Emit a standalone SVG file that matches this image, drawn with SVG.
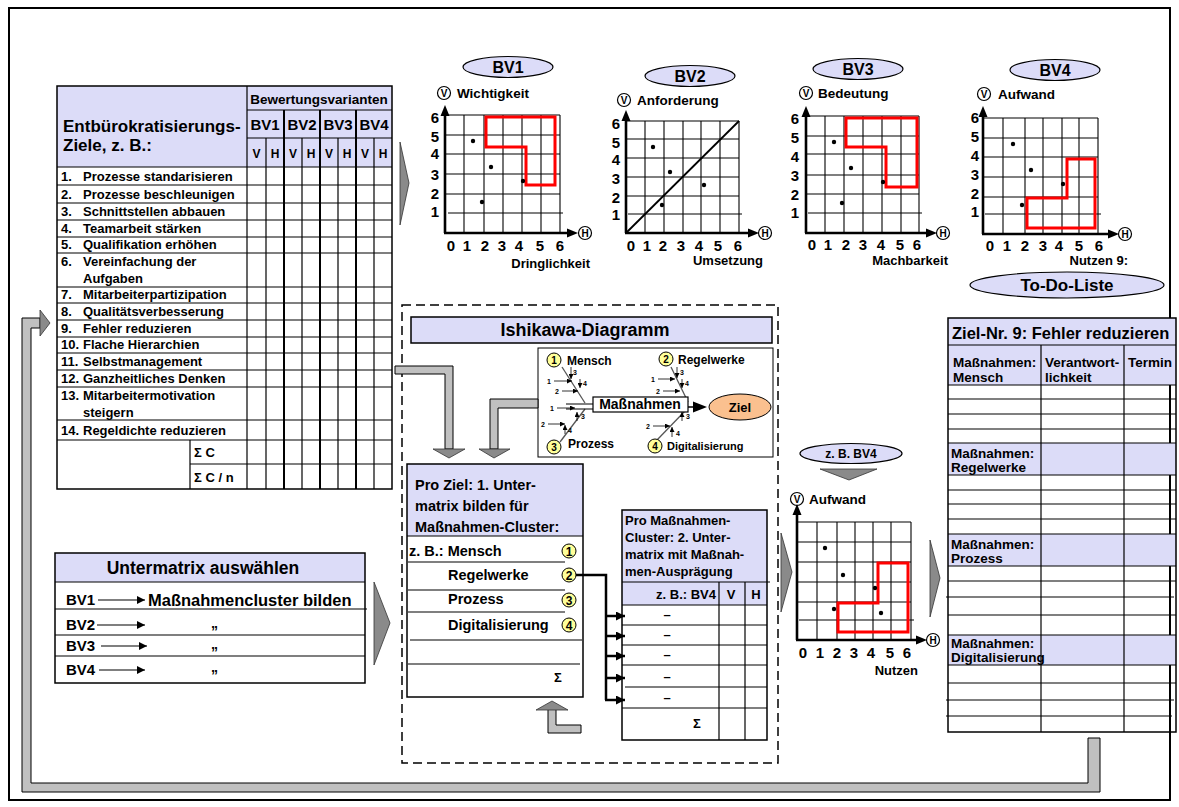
<svg xmlns="http://www.w3.org/2000/svg" width="1179" height="807" viewBox="0 0 1179 807">
<defs>
<style>
text{font-family:"Liberation Sans",Arial,sans-serif;font-weight:bold;fill:#000}
.lav{fill:#DCDCF8}
.bx{fill:none;stroke:#000;stroke-width:1.5}
.ln{stroke:#000;stroke-width:1.2;fill:none}
.lt{stroke:#000;stroke-width:2;fill:none}
.gr{stroke:#000;stroke-width:1.1;fill:none}
.ax{stroke:#000;stroke-width:2.6;fill:none}
.red{fill:none;stroke:#FF0000;stroke-width:3}
.pipe{fill:#C0C0C0;stroke:#000;stroke-width:1}
.chev{fill:#8A8A8A;stroke:#333;stroke-width:0.8}
.ell{fill:#DCDCF8;stroke:#000;stroke-width:1.2}
.num{fill:#FFFF99;stroke:#000;stroke-width:1}
.bone{stroke:#555;stroke-width:1.3;fill:none}
.sa{stroke:#000;stroke-width:0.8;fill:none;marker-end:url(#sm)}
.f7{font-size:7px}
.f10{font-size:10px}
.f12{font-size:12px}
.f13{font-size:13px}
.f135{font-size:13.5px}
.f14{font-size:14px}
.f145{font-size:14.5px}
.f15{font-size:15px}
.f16{font-size:16px}
.f17{font-size:17px}
.mid{text-anchor:middle}
.end{text-anchor:end}
</style>
<marker id="sm" viewBox="0 0 6 6" refX="6" refY="3" markerWidth="5" markerHeight="5" orient="auto" markerUnits="userSpaceOnUse"><path d="M0,0 L6,3 L0,6 Z" fill="#000"/></marker>
<marker id="ar" viewBox="0 0 8 8" refX="8" refY="4" markerWidth="8" markerHeight="8" orient="auto" markerUnits="userSpaceOnUse"><path d="M0,0 L8,4 L0,8 Z" fill="#000"/></marker>
<marker id="ab" viewBox="0 0 10 10" refX="10" refY="5" markerWidth="9" markerHeight="9" orient="auto" markerUnits="userSpaceOnUse"><path d="M0,0 L10,5 L0,10 Z" fill="#000"/></marker>
<g id="cV"><circle r="6.5" fill="#fff" stroke="#000" stroke-width="1.2"/><text y="3.6" class="f10 mid">V</text></g>
<g id="cH"><circle r="6.5" fill="#fff" stroke="#000" stroke-width="1.2"/><text y="3.6" class="f10 mid">H</text></g>
</defs>

<rect x="9" y="8" width="1161" height="792" fill="#fff" stroke="#000" stroke-width="2"/>

<!-- Left table -->
<g id="ziele-tabelle">
<rect x="57" y="86" width="335" height="81" class="lav"/>
<rect x="57" y="86" width="335" height="403" class="bx"/>
<line x1="247" y1="86" x2="247" y2="489" class="ln"/>
<line x1="247" y1="110" x2="392" y2="110" class="ln"/>
<line x1="247" y1="138" x2="392" y2="138" class="ln"/>
<line x1="57" y1="167" x2="392" y2="167" class="ln"/>
<g class="lt"><line x1="284" y1="110" x2="284" y2="489"/><line x1="320" y1="110" x2="320" y2="489"/><line x1="356" y1="110" x2="356" y2="489"/></g>
<g class="ln"><line x1="266" y1="138" x2="266" y2="489"/><line x1="302" y1="138" x2="302" y2="489"/><line x1="338" y1="138" x2="338" y2="489"/><line x1="374" y1="138" x2="374" y2="489"/></g>
<g class="ln">
<line x1="57" y1="185" x2="392" y2="185"/><line x1="57" y1="203" x2="392" y2="203"/><line x1="57" y1="220" x2="392" y2="220"/><line x1="57" y1="237" x2="392" y2="237"/><line x1="57" y1="253" x2="392" y2="253"/><line x1="57" y1="287" x2="392" y2="287"/><line x1="57" y1="303" x2="392" y2="303"/><line x1="57" y1="320" x2="392" y2="320"/><line x1="57" y1="337" x2="392" y2="337"/><line x1="57" y1="353" x2="392" y2="353"/><line x1="57" y1="370" x2="392" y2="370"/><line x1="57" y1="387" x2="392" y2="387"/><line x1="57" y1="420" x2="392" y2="420"/><line x1="57" y1="440" x2="392" y2="440"/><line x1="190" y1="464" x2="392" y2="464"/><line x1="190" y1="440" x2="190" y2="489"/>
</g>
<text x="63" y="132" class="f17">Entbürokratisierungs-</text>
<text x="63" y="151" class="f17">Ziele, z. B.:</text>
<text x="319" y="104" class="f135 mid">Bewertungsvarianten</text>
<text x="265" y="130" class="f15 mid">BV1</text><text x="302" y="130" class="f15 mid">BV2</text><text x="338" y="130" class="f15 mid">BV3</text><text x="374" y="130" class="f15 mid">BV4</text>
<g class="f12 mid">
<text x="256.5" y="158">V</text><text x="275" y="158">H</text><text x="293" y="158">V</text><text x="311" y="158">H</text><text x="329" y="158">V</text><text x="347" y="158">H</text><text x="365" y="158">V</text><text x="383" y="158">H</text>
</g>
<g class="f13">
<text x="61" y="181">1.</text><text x="83" y="181">Prozesse standarisieren</text>
<text x="61" y="199">2.</text><text x="83" y="199">Prozesse beschleunigen</text>
<text x="61" y="216">3.</text><text x="83" y="216">Schnittstellen abbauen</text>
<text x="61" y="233">4.</text><text x="83" y="233">Teamarbeit stärken</text>
<text x="61" y="249">5.</text><text x="83" y="249">Qualifikation erhöhen</text>
<text x="61" y="266">6.</text><text x="83" y="266">Vereinfachung der</text><text x="83" y="283">Aufgaben</text>
<text x="61" y="299">7.</text><text x="83" y="299">Mitarbeiterpartizipation</text>
<text x="61" y="316">8.</text><text x="83" y="316">Qualitätsverbesserung</text>
<text x="61" y="333">9.</text><text x="83" y="333">Fehler reduzieren</text>
<text x="61" y="349">10.</text><text x="83" y="349">Flache Hierarchien</text>
<text x="61" y="366">11.</text><text x="83" y="366">Selbstmanagement</text>
<text x="61" y="383">12.</text><text x="83" y="383">Ganzheitliches Denken</text>
<text x="61" y="400">13.</text><text x="83" y="400">Mitarbeitermotivation</text><text x="83" y="417">steigern</text>
<text x="61" y="435">14.</text><text x="83" y="435">Regeldichte reduzieren</text>
<text x="194" y="457">Σ C</text>
<text x="194" y="482">Σ C / n</text>
</g>
</g>

<!-- Chart BV1 -->
<g id="chart-bv1">
<ellipse cx="508" cy="67" rx="45" ry="10.5" class="ell"/><text x="508" y="73" class="f16 mid">BV1</text>
<use href="#cV" x="444" y="93"/><text x="457" y="98" class="f135">Wichtigkeit</text>
<g class="gr">
<line x1="464" y1="115" x2="464" y2="233"/><line x1="484" y1="115" x2="484" y2="233"/><line x1="503" y1="115" x2="503" y2="233"/><line x1="522" y1="115" x2="522" y2="233"/><line x1="541" y1="115" x2="541" y2="233"/><line x1="560" y1="115" x2="560" y2="233"/>
<line x1="445" y1="115" x2="560" y2="115"/><line x1="445" y1="135" x2="560" y2="135"/><line x1="445" y1="154" x2="560" y2="154"/><line x1="445" y1="174" x2="560" y2="174"/><line x1="445" y1="194" x2="560" y2="194"/><line x1="448" y1="213" x2="563" y2="213"/>
</g>
<line x1="445" y1="233" x2="445" y2="113" class="ax"/><polygon points="440.5,116 449.5,116 445,105"/>
<line x1="444" y1="233" x2="569" y2="233" class="ax"/><polygon points="567,228.5 567,237.5 578,233"/>
<use href="#cH" x="585" y="233"/>
<polygon points="486,117 555,117 555,185 526,185 526,147 486,147" class="red"/>
<circle cx="473" cy="141" r="2.2"/><circle cx="491" cy="167" r="2.2"/><circle cx="482" cy="202" r="2.2"/><circle cx="523" cy="181" r="2.2"/>
<g class="f15 mid"><text x="435" y="123">6</text><text x="435" y="142">5</text><text x="435" y="159">4</text><text x="435" y="180">3</text><text x="435" y="199">2</text><text x="435" y="217">1</text>
<text x="451" y="251">0</text><text x="467" y="251">1</text><text x="485" y="251">2</text><text x="502" y="251">3</text><text x="519" y="251">4</text><text x="540" y="251">5</text><text x="560" y="251">6</text></g>
<text x="590" y="268" class="f13 end">Dringlichkeit</text>
</g>

<!-- Chart BV2 -->
<g id="chart-bv2">
<ellipse cx="690" cy="76" rx="45" ry="10.5" class="ell"/><text x="690" y="82" class="f16 mid">BV2</text>
<use href="#cV" x="624" y="100"/><text x="637" y="105" class="f135">Anforderung</text>
<g class="gr">
<line x1="645" y1="121" x2="645" y2="233"/><line x1="664" y1="121" x2="664" y2="233"/><line x1="683" y1="121" x2="683" y2="233"/><line x1="701" y1="121" x2="701" y2="233"/><line x1="720" y1="121" x2="720" y2="233"/><line x1="739" y1="121" x2="739" y2="233"/>
<line x1="626" y1="121" x2="739" y2="121"/><line x1="626" y1="139" x2="739" y2="139"/><line x1="626" y1="158" x2="739" y2="158"/><line x1="626" y1="177" x2="739" y2="177"/><line x1="626" y1="196" x2="739" y2="196"/><line x1="628" y1="214" x2="742" y2="214"/>
</g>
<line x1="626" y1="233" x2="739" y2="121" stroke="#000" stroke-width="1.8"/>
<line x1="626" y1="233" x2="626" y2="118" class="ax"/><polygon points="621.5,121 630.5,121 626,110"/>
<line x1="625" y1="233" x2="750" y2="233" class="ax"/><polygon points="748,228.5 748,237.5 759,233"/>
<use href="#cH" x="765" y="233"/>
<circle cx="653" cy="147" r="2.2"/><circle cx="670" cy="172" r="2.2"/><circle cx="662" cy="205" r="2.2"/><circle cx="704" cy="185" r="2.2"/>
<g class="f15 mid"><text x="616" y="129">6</text><text x="616" y="148">5</text><text x="616" y="165">4</text><text x="616" y="184">3</text><text x="616" y="203">2</text><text x="616" y="220">1</text>
<text x="631" y="251">0</text><text x="647" y="251">1</text><text x="663" y="251">2</text><text x="681" y="251">3</text><text x="699" y="251">4</text><text x="718" y="251">5</text><text x="738" y="251">6</text></g>
<text x="763" y="265" class="f13 end">Umsetzung</text>
</g>

<!-- Chart BV3 -->
<g id="chart-bv3">
<ellipse cx="858" cy="69" rx="45" ry="10.5" class="ell"/><text x="858" y="75" class="f16 mid">BV3</text>
<use href="#cV" x="806" y="93"/><text x="818" y="98" class="f135">Bedeutung</text>
<g class="gr">
<line x1="825" y1="116" x2="825" y2="233"/><line x1="844" y1="116" x2="844" y2="233"/><line x1="863" y1="116" x2="863" y2="233"/><line x1="882" y1="116" x2="882" y2="233"/><line x1="901" y1="116" x2="901" y2="233"/><line x1="919" y1="116" x2="919" y2="233"/>
<line x1="806" y1="116" x2="919" y2="116"/><line x1="806" y1="136" x2="919" y2="136"/><line x1="806" y1="154" x2="919" y2="154"/><line x1="806" y1="175" x2="919" y2="175"/><line x1="806" y1="194" x2="919" y2="194"/><line x1="808" y1="213" x2="922" y2="213"/>
</g>
<line x1="806" y1="233" x2="806" y2="113" class="ax"/><polygon points="801.5,117 810.5,117 806,106"/>
<line x1="805" y1="233" x2="928" y2="233" class="ax"/><polygon points="926,228.5 926,237.5 937,233"/>
<use href="#cH" x="943" y="233"/>
<polygon points="846,118 917,118 917,187 886,187 886,147 846,147" class="red"/>
<circle cx="834" cy="142" r="2.2"/><circle cx="851" cy="168" r="2.2"/><circle cx="842" cy="203" r="2.2"/><circle cx="883" cy="182" r="2.2"/>
<g class="f15 mid"><text x="795" y="124">6</text><text x="795" y="143">5</text><text x="795" y="162">4</text><text x="795" y="181">3</text><text x="795" y="200">2</text><text x="795" y="218">1</text>
<text x="812" y="250">0</text><text x="828" y="250">1</text><text x="846" y="250">2</text><text x="863" y="250">3</text><text x="881" y="250">4</text><text x="900" y="250">5</text><text x="917" y="250">6</text></g>
<text x="948" y="265" class="f13 end">Machbarkeit</text>
</g>

<!-- Chart BV4 -->
<g id="chart-bv4">
<ellipse cx="1055" cy="70" rx="45" ry="10.5" class="ell"/><text x="1055" y="76" class="f16 mid">BV4</text>
<use href="#cV" x="984" y="94"/><text x="998" y="99" class="f135">Aufwand</text>
<g class="gr">
<line x1="1003" y1="118" x2="1003" y2="234"/><line x1="1025" y1="118" x2="1025" y2="234"/><line x1="1043" y1="118" x2="1043" y2="234"/><line x1="1062" y1="118" x2="1062" y2="234"/><line x1="1079" y1="118" x2="1079" y2="234"/><line x1="1098" y1="118" x2="1098" y2="234"/>
<line x1="983" y1="118" x2="1098" y2="118"/><line x1="983" y1="138" x2="1098" y2="138"/><line x1="983" y1="157" x2="1098" y2="157"/><line x1="983" y1="177" x2="1098" y2="177"/><line x1="983" y1="197" x2="1098" y2="197"/><line x1="985" y1="214" x2="1101" y2="214"/>
</g>
<line x1="983" y1="234" x2="983" y2="114" class="ax"/><polygon points="978.5,117 987.5,117 983,106"/>
<line x1="982" y1="234" x2="1110" y2="234" class="ax"/><polygon points="1108,229.5 1108,238.5 1119,234"/>
<use href="#cH" x="1125" y="234"/>
<polygon points="1027,228 1095,228 1095,159 1067,159 1067,198 1027,198" class="red"/>
<circle cx="1013" cy="144" r="2.2"/><circle cx="1031" cy="170" r="2.2"/><circle cx="1022" cy="205" r="2.2"/><circle cx="1063" cy="184" r="2.2"/>
<g class="f15 mid"><text x="975" y="123">6</text><text x="975" y="142">5</text><text x="975" y="161">4</text><text x="975" y="180">3</text><text x="975" y="199">2</text><text x="975" y="217">1</text>
<text x="990" y="251">0</text><text x="1007" y="251">1</text><text x="1025" y="251">2</text><text x="1043" y="251">3</text><text x="1059" y="251">4</text><text x="1079" y="251">5</text><text x="1099" y="251">6</text></g>
<text x="1128" y="265" class="f13 end">Nutzen 9:</text>
</g>

<g id="todo-ellipse">
<ellipse cx="1067" cy="285" rx="97" ry="13" class="ell"/><text x="1067" y="291" class="f17 mid">To-Do-Liste</text>
</g>

<!-- Dashed group -->
<rect id="dashed-frame" x="402" y="305" width="376" height="458" fill="none" stroke="#000" stroke-width="1.5" stroke-dasharray="9,5"/>

<g id="ishikawa-titel">
<rect x="411" y="317" width="361" height="26" class="lav" stroke="#000" stroke-width="1.5"/>
<text x="585" y="336" class="f17 mid" style="font-size:18px">Ishikawa-Diagramm</text>
</g>

<g id="ishikawa">
<rect x="538" y="348" width="235" height="109" fill="#fff" stroke="#000" stroke-width="1"/>
<line x1="562" y1="367" x2="585" y2="403" class="bone"/>
<line x1="560" y1="442" x2="585" y2="409" class="bone"/>
<line x1="671" y1="367" x2="688" y2="402" class="bone"/>
<line x1="657" y1="440" x2="685" y2="411" class="bone"/>
<line x1="566" y1="404" x2="593" y2="404" stroke="#000" stroke-width="1"/>
<line x1="566" y1="409" x2="593" y2="409" stroke="#000" stroke-width="1"/>
<rect x="593" y="397" width="95" height="15" fill="#fff" stroke="#000" stroke-width="1.2"/>
<text x="640" y="409" class="f14 mid">Maßnahmen</text>
<line x1="688" y1="407" x2="696" y2="407" stroke="#000" stroke-width="1.5"/>
<polygon points="693,401.5 693,412.5 707,407"/>
<ellipse cx="740" cy="407" rx="31" ry="13" fill="#FAC08F" stroke="#000" stroke-width="1"/>
<text x="740" y="412" class="f13 mid">Ziel</text>
<circle cx="554" cy="360" r="7" class="num"/><text x="554" y="364" class="f10 mid">1</text>
<text x="567" y="365" class="f12">Mensch</text>
<circle cx="666" cy="359" r="7" class="num"/><text x="666" y="363" class="f10 mid">2</text>
<text x="678" y="364" class="f12">Regelwerke</text>
<circle cx="554" cy="447" r="7" class="num"/><text x="554" y="451" class="f10 mid">3</text>
<text x="568" y="448" class="f12">Prozess</text>
<circle cx="655" cy="446" r="7" class="num"/><text x="655" y="450" class="f10 mid">4</text>
<text x="667" y="450" style="font-size:11px">Digitalisierung</text>
<g>
<line x1="554" y1="381" x2="572" y2="381" class="sa"/><text x="549" y="383.5" class="f7 mid">1</text>
<line x1="562" y1="391" x2="578" y2="391" class="sa"/><text x="557" y="393.5" class="f7 mid">2</text>
<line x1="571" y1="367" x2="571" y2="379" class="sa"/><text x="575" y="375" class="f7 mid">3</text>
<line x1="580" y1="379" x2="580" y2="388" class="sa"/><text x="585" y="386" class="f7 mid">4</text>
<line x1="557" y1="408" x2="575" y2="408" class="sa"/><text x="552" y="410.5" class="f7 mid">1</text>
<line x1="548" y1="424" x2="565" y2="424" class="sa"/><text x="543" y="426.5" class="f7 mid">2</text>
<line x1="577" y1="421" x2="577" y2="412" class="sa"/><text x="583" y="419" class="f7 mid">3</text>
<line x1="565" y1="434" x2="565" y2="425" class="sa"/><text x="570" y="433" class="f7 mid">4</text>
<line x1="658" y1="379" x2="675" y2="379" class="sa"/><text x="653" y="381.5" class="f7 mid">1</text>
<line x1="663" y1="391" x2="680" y2="391" class="sa"/><text x="658" y="393.5" class="f7 mid">2</text>
<line x1="677" y1="367" x2="677" y2="378" class="sa"/><text x="682" y="375" class="f7 mid">3</text>
<line x1="682" y1="379" x2="682" y2="388" class="sa"/><text x="687" y="386" class="f7 mid">4</text>
<line x1="653" y1="426" x2="670" y2="426" class="sa"/><text x="648" y="428.5" class="f7 mid">2</text>
<line x1="682" y1="421" x2="682" y2="412" class="sa"/><text x="688" y="419" class="f7 mid">3</text>
<line x1="672" y1="437" x2="672" y2="427" class="sa"/><text x="678" y="436" class="f7 mid">4</text>
</g>
</g>

<!-- Pro Ziel matrix -->
<g id="pro-ziel">
<rect x="407" y="464" width="176" height="72" class="lav"/>
<rect x="407" y="464" width="176" height="233" class="bx"/>
<line x1="407" y1="536" x2="583" y2="536" class="ln"/>
<g class="ln"><line x1="408" y1="562" x2="565" y2="562"/><line x1="408" y1="590" x2="565" y2="590"/><line x1="408" y1="612" x2="565" y2="612"/><line x1="410" y1="640" x2="582" y2="640"/><line x1="408" y1="664" x2="580" y2="664"/></g>
<text x="415" y="490" class="f145">Pro Ziel: 1. Unter-</text>
<text x="415" y="511" class="f145">matrix bilden für</text>
<text x="415" y="532" class="f145">Maßnahmen-Cluster:</text>
<text x="409" y="556" class="f145">z. B.: Mensch</text>
<text x="448" y="580" class="f145">Regelwerke</text>
<text x="448" y="604" class="f145">Prozess</text>
<text x="448" y="630" class="f145">Digitalisierung</text>
<text x="558" y="682" class="f13 mid">Σ</text>
<circle cx="569" cy="551" r="7" class="num"/><text x="569" y="555.5" class="f12 mid">1</text>
<circle cx="569" cy="575" r="7" class="num"/><text x="569" y="579.5" class="f12 mid">2</text>
<circle cx="569" cy="600" r="7" class="num"/><text x="569" y="604.5" class="f12 mid">3</text>
<circle cx="569" cy="625" r="7" class="num"/><text x="569" y="629.5" class="f12 mid">4</text>
</g>

<!-- Pro Maßnahmen matrix -->
<g id="pro-massnahmen">
<rect x="622" y="510" width="145" height="95" class="lav"/>
<rect x="622" y="510" width="145" height="230" class="bx"/>
<line x1="622" y1="582" x2="770" y2="582" class="ln"/>
<line x1="622" y1="605" x2="767" y2="605" class="ln"/>
<g class="ln"><line x1="719" y1="582" x2="719" y2="740"/><line x1="745" y1="582" x2="745" y2="740"/>
<line x1="622" y1="625" x2="767" y2="625"/><line x1="622" y1="645" x2="767" y2="645"/><line x1="622" y1="665" x2="767" y2="665"/><line x1="625" y1="687" x2="767" y2="687"/><line x1="622" y1="708" x2="767" y2="708"/></g>
<text x="625" y="525" class="f13">Pro Maßnahmen-</text>
<text x="625" y="542" class="f13">Cluster: 2. Unter-</text>
<text x="625" y="559" class="f13">matrix mit Maßnah-</text>
<text x="625" y="576" class="f13">men-Ausprägung</text>
<text x="716" y="599" class="f13 end">z. B.: BV4</text>
<text x="731" y="599" class="f13 mid">V</text><text x="756" y="599" class="f13 mid">H</text>
<g class="f13 mid"><text x="667" y="619">–</text><text x="667" y="639">–</text><text x="667" y="659">–</text><text x="667" y="681">–</text><text x="667" y="702">–</text></g>
<text x="697" y="728" class="f13 mid">Σ</text>
</g>

<!-- z.B. BV4 chart -->
<g id="chart-zb-bv4">
<ellipse cx="851" cy="453.5" rx="51" ry="10" class="ell"/><text x="851" y="458" class="f12 mid">z. B. BV4</text>
<polygon points="820,469 877,469 849,480" class="chev"/>
<use href="#cV" x="797" y="499"/><text x="809" y="504" class="f135">Aufwand</text>
<g class="gr">
<line x1="817" y1="522" x2="817" y2="640"/><line x1="837" y1="522" x2="837" y2="640"/><line x1="855" y1="522" x2="855" y2="640"/><line x1="873" y1="522" x2="873" y2="640"/><line x1="891" y1="522" x2="891" y2="640"/><line x1="911" y1="522" x2="911" y2="640"/>
<line x1="797" y1="522" x2="911" y2="522"/><line x1="797" y1="542" x2="911" y2="542"/><line x1="797" y1="562" x2="911" y2="562"/><line x1="797" y1="582" x2="911" y2="582"/><line x1="797" y1="602" x2="911" y2="602"/><line x1="799" y1="620" x2="914" y2="620"/>
</g>
<line x1="797" y1="640" x2="797" y2="512" class="ax"/><polygon points="792.5,515 801.5,515 797,504"/>
<line x1="796" y1="640" x2="918" y2="640" class="ax"/><polygon points="916,635.5 916,644.5 927,640"/>
<use href="#cH" x="933" y="640"/>
<polygon points="838,632 908,632 908,563 878,563 878,603 838,603" class="red"/>
<circle cx="825" cy="548" r="2.2"/><circle cx="843" cy="575" r="2.2"/><circle cx="834" cy="609" r="2.2"/><circle cx="875" cy="588" r="2.2"/><circle cx="881" cy="613" r="2.2"/>
<g class="f15 mid"><text x="803" y="658">0</text><text x="820" y="658">1</text><text x="837" y="658">2</text><text x="854" y="658">3</text><text x="871" y="658">4</text><text x="890" y="658">5</text><text x="907" y="658">6</text></g>
<text x="918" y="675" class="f13 end">Nutzen</text>
</g>

<!-- To-Do list -->
<g id="todo-liste">
<rect x="948" y="318" width="228" height="67" class="lav"/>
<rect x="948" y="443" width="228" height="32" class="lav"/>
<rect x="948" y="534" width="228" height="32" class="lav"/>
<rect x="948" y="635" width="228" height="30" class="lav"/>
<rect x="948" y="318" width="228" height="414" class="bx"/>
<g class="ln">
<line x1="948" y1="345" x2="1176" y2="345"/>
<line x1="1041" y1="345" x2="1041" y2="732"/><line x1="1124" y1="345" x2="1124" y2="732"/>
<line x1="948" y1="385" x2="1176" y2="385"/><line x1="948" y1="399" x2="1176" y2="399"/><line x1="948" y1="414" x2="1176" y2="414"/><line x1="948" y1="429" x2="1176" y2="429"/><line x1="948" y1="443" x2="1176" y2="443"/><line x1="948" y1="475" x2="1176" y2="475"/><line x1="948" y1="490" x2="1176" y2="490"/><line x1="948" y1="504" x2="1176" y2="504"/><line x1="948" y1="519" x2="1176" y2="519"/><line x1="948" y1="534" x2="1176" y2="534"/><line x1="948" y1="566" x2="1176" y2="566"/><line x1="948" y1="581" x2="1176" y2="581"/><line x1="946" y1="597" x2="1174" y2="597"/><line x1="948" y1="615" x2="1176" y2="615"/><line x1="948" y1="635" x2="1176" y2="635"/><line x1="948" y1="665" x2="1176" y2="665"/><line x1="948" y1="683" x2="1176" y2="683"/><line x1="946" y1="700" x2="1174" y2="700"/><line x1="946" y1="716" x2="1172" y2="716"/>
</g>
<text x="952" y="339" class="f16" style="font-size:16.5px">Ziel-Nr. 9: Fehler reduzieren</text>
<g class="f135">
<text x="953" y="367">Maßnahmen:</text><text x="953" y="382">Mensch</text>
<text x="1045" y="367">Verantwort-</text><text x="1045" y="382">lichkeit</text>
<text x="1128" y="367">Termin</text>
<text x="951" y="458">Maßnahmen:</text><text x="951" y="472">Regelwerke</text>
<text x="951" y="549">Maßnahmen:</text><text x="951" y="563">Prozess</text>
<text x="951" y="648">Maßnahmen:</text><text x="951" y="662">Digitalisierung</text>
</g>
</g>

<!-- Untermatrix auswählen -->
<g id="untermatrix">
<rect x="55" y="553" width="310" height="29" class="lav"/>
<rect x="55" y="553" width="310" height="130" class="bx"/>
<g class="ln"><line x1="55" y1="582" x2="365" y2="582"/><line x1="55" y1="609" x2="367" y2="609"/><line x1="55" y1="635" x2="365" y2="635"/><line x1="55" y1="656" x2="365" y2="656"/></g>
<text x="203" y="574" class="f17" style="font-size:17.5px;text-anchor:middle">Untermatrix auswählen</text>
<g class="f15"><text x="66" y="605">BV1</text><text x="66" y="630">BV2</text><text x="66" y="651">BV3</text><text x="66" y="675">BV4</text></g>
<g stroke="#000" stroke-width="1.2"><line x1="98" y1="600" x2="145" y2="600" marker-end="url(#ar)"/><line x1="97" y1="625" x2="145" y2="625" marker-end="url(#ar)"/><line x1="101" y1="646" x2="147" y2="646" marker-end="url(#ar)"/><line x1="99" y1="670" x2="145" y2="670" marker-end="url(#ar)"/></g>
<text x="148" y="606" class="f16" style="font-size:16.5px">Maßnahmencluster bilden</text>
<g class="f14"><text x="211" y="628">„</text><text x="211" y="649">„</text><text x="211" y="672">„</text></g>
</g>

<!-- Connectors -->
<g id="connectors">
<polygon points="400,142 409,183 400,225" class="chev"/>
<polygon points="374,582 390,623 374,665" class="chev"/>
<polygon points="781,533 792,572 781,612" class="chev"/>
<polygon points="930,540 940,578 930,617" class="chev"/>
<path d="M395,366 L453,366 L453,449 L445,449 L445,374 L395,374 Z" class="pipe"/>
<polygon points="433,449 465,449 449,458" class="chev"/>
<path d="M538,399 L490,399 L490,449 L498,449 L498,408 L538,408 Z" class="pipe"/>
<polygon points="479,449 510,449 494,458" class="chev"/>
<path d="M548,709 L548,733 L581,733 L581,725 L556,725 L556,709 Z" class="pipe"/>
<polygon points="536,710 568,710 552,701" class="chev"/>
<path d="M1088,738 L1100,738 L1100,792 L22,792 L22,318 L40,318 L40,328 L31,328 L31,783 L1088,783 Z" class="pipe"/>
<polygon points="40,310 50,323 40,336" class="chev"/>
<path d="M576,575 L606,575 L606,700" stroke="#000" stroke-width="2.5" fill="none"/>
<g stroke="#000" stroke-width="2.5"><line x1="605" y1="616" x2="625" y2="616" marker-end="url(#ab)"/><line x1="605" y1="636" x2="625" y2="636" marker-end="url(#ab)"/><line x1="605" y1="656" x2="625" y2="656" marker-end="url(#ab)"/><line x1="605" y1="678" x2="625" y2="678" marker-end="url(#ab)"/><line x1="605" y1="700" x2="625" y2="700" marker-end="url(#ab)"/></g>
</g>
</svg>
